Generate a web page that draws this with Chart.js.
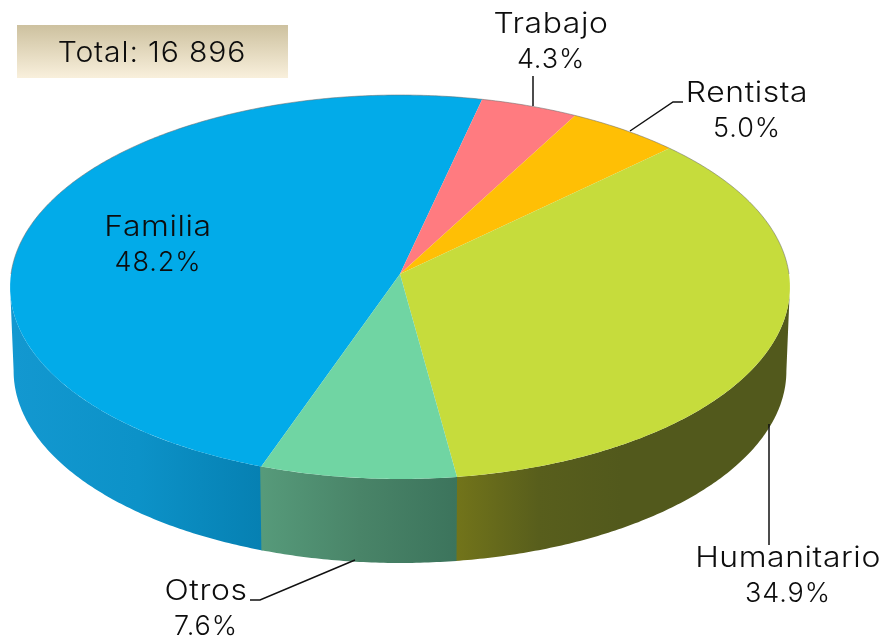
<!DOCTYPE html>
<html>
<head>
<meta charset="utf-8">
<style>
  html, body { margin: 0; padding: 0; background: #fff; }
  #wrap { width: 882px; height: 637px; }
</style>
<script src="https://cdn.jsdelivr.net/npm/chart.js@4"></script>
</head>
<body>
<div id="wrap"><canvas id="myChart" width="882" height="637"></canvas></div>
<script>
const categories = ['Familia', 'Trabajo', 'Rentista', 'Humanitario', 'Otros'];
const shares = [48.2, 4.3, 5.0, 34.9, 7.6];
const totalText = 'Total: 16 896';

const topColors = ['#02abe9', '#ff7b80', '#ffbf05', '#c6dc3c', '#70d5a3'];
// wall gradients, left to right
const wallColors = [
  ['#1398d0', '#0c92c8', '#0680b2'],
  ['#a85a5c', '#a85a5c'],
  ['#a8821a', '#a8821a'],
  ['#72741a', '#585e1c', '#52591c', '#52591c', '#52591c'],
  ['#569a7a', '#498468', '#3c745c']
];

// label anchor: centre x, first baseline y
const labelPos = [[158, 236], [551, 33], [747, 102], [788, 567], [206, 600]];
const leaders = [
  [],
  [[533, 76], [533, 106]],
  [[630, 131], [673, 102], [683, 102]],
  [[769, 424], [769, 545]],
  [[250, 600], [260, 600], [355, 560]]
];

// perspective of the disc: the centre sits above the middle of the ellipse
const topFace = { x: 400, y: 274, a: 389, b: 191.1, k: 0.0677 };
const lowFace = { x: 400, y: 358, a: 385.5, b: 191.1, k: 0.0677 };

// chart angle (0 = +x, clockwise) to a point on the tilted rim
function rim(f, angle) {
  const u = Math.cos(angle), v = -Math.sin(angle);
  const d = 1 + f.k * v;
  return [f.x + f.a * u / d, f.y - f.b * v / d];
}

function traceRim(ctx, f, from, to) {
  const steps = Math.max(2, Math.ceil(Math.abs(to - from) / 0.01));
  for (let i = 0; i <= steps; i++) {
    const p = rim(f, from + (to - from) * i / steps);
    ctx.lineTo(p[0], p[1]);
  }
}

function wideText(ctx, text, x, y, stretch) {
  ctx.save();
  ctx.translate(x, y);
  ctx.scale(stretch, 1);
  ctx.fillText(text, 0, 0);
  ctx.restore();
}

const tiltedPie = {
  id: 'tiltedPie',
  beforeDatasetsDraw(chart) {
    const ctx = chart.ctx;
    const arcs = chart.getDatasetMeta(0).data;
    const twoPi = Math.PI * 2;
    // the widest point of the rim, where the wall starts
    const edge = Math.asin(topFace.k);

    // walls first, only the front shows
    arcs.forEach((arc, i) => {
      let s = arc.startAngle, e = arc.endAngle;
      while (s < -Math.PI / 2) { s += twoPi; e += twoPi; }
      [[s, e], [s - twoPi, e - twoPi]].forEach(([a0, b0]) => {
        const a = Math.max(a0, edge), b = Math.min(b0, Math.PI - edge);
        if (b <= a) return;
        const p0 = rim(lowFace, b), p1 = rim(lowFace, a);
        const g = ctx.createLinearGradient(Math.min(p0[0], p1[0]), 0, Math.max(p0[0], p1[0]), 0);
        wallColors[i].forEach((c, k) => g.addColorStop(k / (wallColors[i].length - 1), c));
        ctx.beginPath();
        traceRim(ctx, topFace, a, b + 0.003);
        traceRim(ctx, lowFace, b + 0.003, a);
        ctx.closePath();
        ctx.fillStyle = g;
        ctx.fill();
      });
    });

    // top face
    arcs.forEach((arc, i) => {
      ctx.beginPath();
      ctx.moveTo(topFace.x, topFace.y);
      traceRim(ctx, topFace, arc.startAngle, arc.endAngle);
      ctx.closePath();
      ctx.fillStyle = topColors[i];
      ctx.fill();
    });

    // thin grey rim on the back edge
    ctx.beginPath();
    traceRim(ctx, topFace, Math.PI, twoPi);
    ctx.strokeStyle = 'rgba(110,110,110,0.55)';
    ctx.lineWidth = 1;
    ctx.stroke();
    return false;
  },
  afterDraw(chart) {
    const ctx = chart.ctx;

    // total box
    const g = ctx.createLinearGradient(0, 25, 0, 77);
    g.addColorStop(0, '#cdc19f');
    g.addColorStop(1, '#f8efdb');
    ctx.fillStyle = g;
    ctx.fillRect(17, 25, 271, 53);

    ctx.textAlign = 'center';
    ctx.textBaseline = 'alphabetic';
    ctx.fillStyle = '#0d0d0d';
    ctx.font = '300 29px Inter';
    ctx.letterSpacing = '0.8px';
    wideText(ctx, totalText, 152, 62, 1.04);

    ctx.font = '300 28px Inter';
    categories.forEach((name, i) => {
      const [x, y] = labelPos[i];
      ctx.letterSpacing = '0.5px';
      wideText(ctx, name, x, y, 1.14);
    });
    ctx.font = '300 27px Inter';
    ctx.letterSpacing = '0.9px';
    categories.forEach((name, i) => {
      const [x, y] = labelPos[i];
      ctx.fillText(shares[i].toFixed(1) + '%', x, y + 35);
    });
    ctx.letterSpacing = '0px';

    ctx.strokeStyle = '#111';
    ctx.lineWidth = 1.5;
    leaders.forEach(pts => {
      if (!pts.length) return;
      ctx.beginPath();
      pts.forEach((p, k) => k ? ctx.lineTo(p[0], p[1]) : ctx.moveTo(p[0], p[1]));
      ctx.stroke();
    });
  }
};

const ctx = document.getElementById('myChart').getContext('2d');

new Chart(ctx, {
  type: 'pie',
  data: {
    labels: categories,
    datasets: [{
      data: shares,
      backgroundColor: topColors,
      borderWidth: 0
    }]
  },
  options: {
    responsive: false,
    animation: false,
    rotation: 199.5,
    plugins: {
      legend: { display: false },
      tooltip: { enabled: false }
    }
  },
  plugins: [tiltedPie]
});
</script>
</body>
</html>
